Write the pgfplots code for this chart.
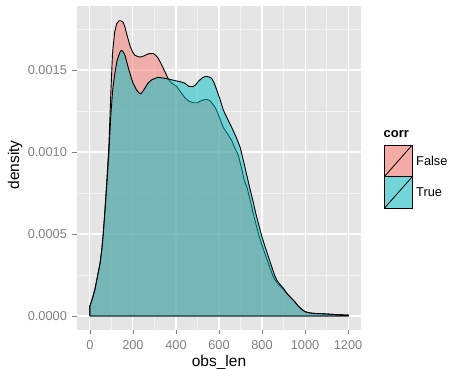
\documentclass[border=0pt]{standalone}
\usepackage{pgfplots}
\pgfplotsset{compat=1.18}
\usepackage{fontspec}
\setmainfont{Liberation Sans}
\definecolor{panelbg}{HTML}{E5E5E5}
\definecolor{minorg}{HTML}{F2F2F2}
\definecolor{tickc}{HTML}{7F7F7F}
\definecolor{redf}{HTML}{F8766D}
\definecolor{tealf}{HTML}{00BFC4}
\definecolor{redkey}{HTML}{F4AAA5}
\definecolor{tealkey}{HTML}{72D5D7}
\begin{document}
\begin{tikzpicture}[x=1pt,y=1pt]
\useasboundingbox (0,0) rectangle (451,369);
\begin{axis}[
  at={(77pt,39pt)}, anchor=south west,
  scale only axis, width=284pt, height=324pt,
  xmin=-60, xmax=1260, ymin=-0.0000854, ymax=0.00189,
  axis background/.style={fill=panelbg},
  axis line style={draw=none},
  xtick={0,200,400,600,800,1000,1200},
  xticklabels={0,200,400,600,800,1000,1200},
  minor xtick={100,300,500,700,900,1100},
  ytick={0,0.0005,0.001,0.0015},
  yticklabels={0.0000,0.0005,0.0010,0.0015},
  minor ytick={0.00025,0.00075,0.00125,0.00175},
  scaled y ticks=false,
  grid=both,
  major grid style={white, line width=1.1pt},
  minor grid style={minorg, line width=0.5pt},
  tick align=outside,
  major tick length=4.5pt, minor tick length=0pt,
  tick style={tickc, line width=0.8pt},
  xtick pos=bottom, ytick pos=left,
  ticklabel style={font=\fontsize{12.8}{14}\selectfont, text=tickc},
  xticklabel style={yshift=-3pt},
  yticklabel style={xshift=-2pt},
  xlabel={obs\_len},
  label style={font=\fontsize{15.5}{18}\selectfont},
  xlabel style={at={(axis description cs:0.5,0)}, anchor=north, yshift=-21.5pt},
  clip=true,
]
\addplot[draw=black, line width=0.9pt, line join=round, fill=redf, fill opacity=0.5] coordinates {
(0,0) (0,0.00006) (10,0.0001) (23,0.00016) (35,0.00024) (47,0.00032) (55,0.0004) (62,0.0005) (70,0.00065) (78,0.00081) (88,0.00103) (97,0.00135) (105,0.0016) (115,0.00173) (124,0.00178) (135,0.0018) (144,0.0018) (155,0.00179) (163,0.00176) (175,0.0017) (186,0.00165) (198,0.00161) (209,0.00159) (225,0.00158) (240,0.00158) (258,0.00159) (275,0.0016) (294,0.0016) (306,0.00159) (318,0.00157) (330,0.00154) (341,0.00151) (352,0.00148) (364,0.001445) (380,0.00142) (403,0.0014) (425,0.00136) (442,0.00133) (460,0.00131) (481,0.0013) (500,0.0013) (512,0.00131) (530,0.001318) (543,0.00132) (556,0.001315) (566,0.0013) (578,0.00128) (589,0.001255) (605,0.0012) (620,0.00115) (640,0.00111) (659,0.00107) (675,0.00102) (690,0.00098) (705,0.0009) (717,0.00083) (731,0.00078) (745,0.000707) (758,0.00063) (771,0.000565) (786,0.00049) (802,0.000423) (819,0.00036) (835,0.0003) (849,0.00025) (860,0.00022) (878,0.00019) (894,0.00017) (912,0.00014) (928,0.000118) (950,0.00009) (969,0.00006) (985,0.00004) (1000,0.000026) (1020,0.000019) (1039,0.000016) (1070,0.000014) (1101,0.000012) (1150,0.000008) (1200,0.000005) (1200,0) (0,0)
};
\addplot[draw=black, line width=0.9pt, line join=round, fill=tealf, fill opacity=0.5] coordinates {
(0,0) (0,0.00006) (10,0.0001) (23,0.00016) (35,0.00024) (47,0.00032) (55,0.0004) (62,0.0005) (70,0.00064) (78,0.00079) (88,0.00099) (97,0.00122) (106,0.00138) (116,0.00148) (125,0.00155) (132,0.00158) (140,0.00161) (147,0.00162) (155,0.00161) (163,0.00159) (175,0.00153) (186,0.00148) (200,0.00142) (217,0.001378) (228,0.00136) (236,0.001354) (246,0.00137) (256,0.00139) (270,0.00142) (287,0.00144) (305,0.00145) (318,0.001455) (345,0.00145) (372,0.001443) (395,0.001435) (419,0.001429) (440,0.00142) (460,0.0014) (478,0.001398) (492,0.00141) (504,0.00143) (520,0.00145) (535,0.00146) (545,0.00146) (555,0.001457) (566,0.001449) (578,0.00142) (589,0.00138) (605,0.00132) (620,0.001256) (640,0.0012) (659,0.00115) (680,0.00109) (698,0.00103) (713,0.00095) (729,0.00086) (743,0.00078) (757,0.000707) (770,0.00063) (783,0.000565) (798,0.00049) (814,0.000423) (830,0.00036) (845,0.0003) (858,0.00025) (868,0.00022) (885,0.00019) (899,0.00017) (915,0.00014) (930,0.000118) (950,0.00009) (969,0.00006) (985,0.00004) (1000,0.000026) (1020,0.000019) (1039,0.000016) (1070,0.000014) (1101,0.000012) (1150,0.000008) (1202,0.000005) (1202,0) (0,0)
};
\end{axis}
% y axis title
\node[rotate=90, font=\fontsize{15.5}{18}\selectfont, inner sep=0pt] at (15,204) {density};
% legend
\node[anchor=base west, font=\fontsize{13}{15}\selectfont\bfseries, inner sep=0pt] at (383.5,231) {corr};
\filldraw[fill=redkey, draw=black, line width=0.8pt] (384.3,192.3) rectangle (412.3,224);
\draw[black, line width=0.8pt] (384.3,192.3) -- (412.3,224);
\filldraw[fill=tealkey, draw=black, line width=0.8pt] (384.3,160.7) rectangle (412.3,192.3);
\draw[black, line width=0.8pt] (384.3,160.7) -- (412.3,192.3);
\node[anchor=west, font=\fontsize{12.8}{14}\selectfont, inner sep=0pt] at (416,208) {False};
\node[anchor=west, font=\fontsize{12.8}{14}\selectfont, inner sep=0pt] at (416,176.5) {True};
\end{tikzpicture}
\end{document}
